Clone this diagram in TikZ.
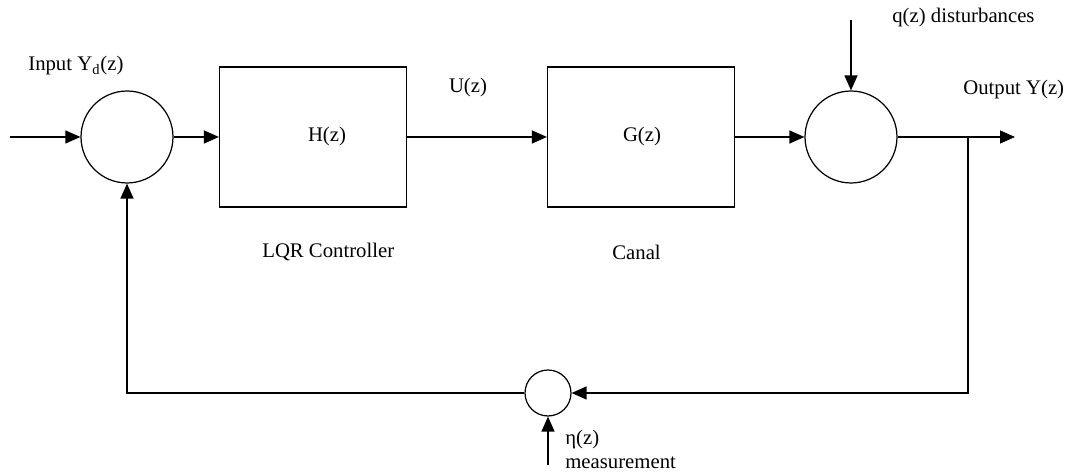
\documentclass[tikz,border=0pt]{standalone}
\usepackage{fontspec}
\setmainfont{Liberation Serif}
\usetikzlibrary{arrows.meta}

\begin{document}
\begin{tikzpicture}[
        x=0.02cm, y=-0.02cm,
        font=\fontsize{11.8}{14}\selectfont,
        sum/.style={circle, draw=black, line width=0.7pt, minimum size=1.84cm, inner sep=0pt},
        smallsum/.style={circle, draw=black, line width=0.7pt, minimum size=0.92cm, inner sep=0pt},
        block/.style={rectangle, draw=black, line width=0.7pt, minimum width=3.74cm, minimum height=2.8cm},
        arrow/.style={line width=0.7pt, -{Triangle[length=0.3cm, width=0.26cm]}},
        line/.style={line width=0.7pt},
        lbl/.style={inner sep=0pt}
    ]
        \useasboundingbox (0,0) rectangle (1066,472);

        \node[sum] (sumin) at (127,137) {};
        \node[block] (ctrl) at (313,137) {};
        \node[block] (canal) at (641,137) {};
        \node[sum] (sumout) at (851,137) {};
        \node[smallsum] (summeas) at (548,393) {};

        \coordinate (yin) at (10,137);
        \coordinate (qin) at (851,20);
        \coordinate (yout) at (1015,137);
        \coordinate (branch) at (968,137);
        \coordinate (etain) at (548,465);

        \node[lbl, anchor=west] (inputlbl) at (28,66) {Input Y\textsubscript{d}(z)};
        \node[lbl] (hz) at (327,137) {H(z)};
        \node[lbl] (gz) at (642,137) {G(z)};
        \node[lbl] (uz) at (468,88) {U(z)};
        \node[lbl, anchor=west] (ctrllbl) at (262,252) {LQR Controller};
        \node[lbl, anchor=west] (canallbl) at (612,252) {Canal};
        \node[lbl, anchor=west] (qlbl) at (892,18) {q(z) disturbances};
        \node[lbl, anchor=west] (outlbl) at (963,90) {Output Y(z)};
        \node[lbl, anchor=west] (etalbl) at (565,440) {η(z)};
        \node[lbl, anchor=west] (measlbl) at (565,463) {measurement};

        \draw[arrow] (yin) -- (sumin);
        \draw[arrow] (sumin) -- (ctrl);
        \draw[arrow] (ctrl) -- (canal);
        \draw[arrow] (canal) -- (sumout);
        \draw[arrow] (qin) -- (sumout);
        \draw[arrow] (sumout) -- (yout);
        \draw[arrow] (branch) |- (summeas);
        \draw[arrow] (etain) -- (summeas);
        \draw[arrow] (summeas) -| (sumin);
    \end{tikzpicture}
\end{document}
